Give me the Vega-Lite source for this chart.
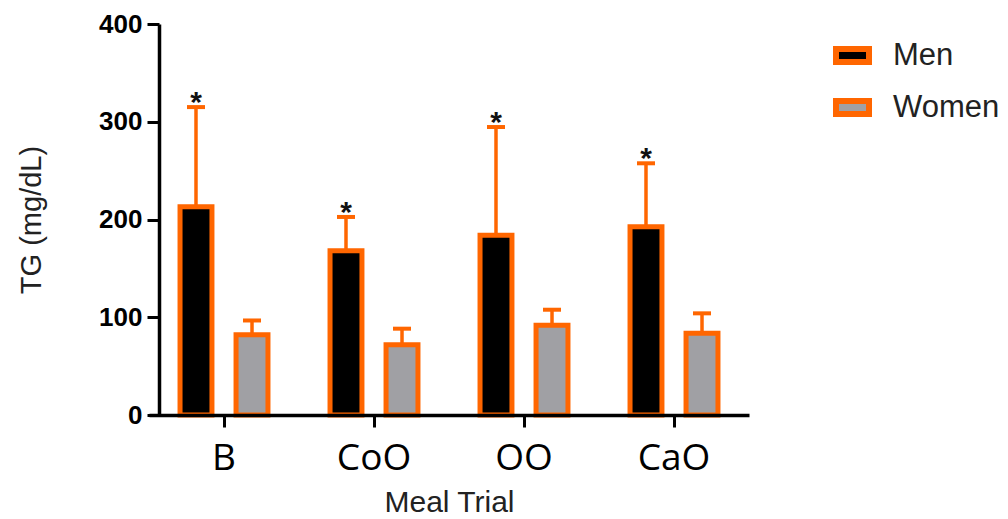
{
  "$schema": "https://vega.github.io/schema/vega-lite/v6.json",
  "width": 583,
  "height": 391,
  "autosize": "none",
  "padding": {"left": 159, "top": 24, "right": 266, "bottom": 104},
  "background": "white",
  "config": {"view": {"stroke": null}, "axis": {"grid": false}},
  "data": {
    "values": [
      {"meal": "B", "sex": "Men", "mean": 213, "upper": 315, "sig": "*"},
      {"meal": "B", "sex": "Women", "mean": 82, "upper": 96.7, "sig": ""},
      {"meal": "CoO", "sex": "Men", "mean": 168, "upper": 202.6, "sig": "*"},
      {"meal": "CoO", "sex": "Women", "mean": 71.8, "upper": 88.3, "sig": ""},
      {"meal": "OO", "sex": "Men", "mean": 184, "upper": 294.6, "sig": "*"},
      {"meal": "OO", "sex": "Women", "mean": 91.9, "upper": 107.7, "sig": ""},
      {"meal": "CaO", "sex": "Men", "mean": 192.5, "upper": 257.5, "sig": "*"},
      {"meal": "CaO", "sex": "Women", "mean": 83.7, "upper": 104, "sig": ""}
    ]
  },
  "encoding": {
    "x": {
      "field": "meal",
      "type": "nominal",
      "sort": ["B", "CoO", "OO", "CaO"],
      "title": "Meal Trial",
      "scale": {"range": [-10, 590], "paddingInner": 0, "paddingOuter": 0},
      "axis": {
        "zindex": 1,
        "labelAngle": 0,
        "domainColor": "#000",
        "domainWidth": 3.5,
        "tickColor": "#000",
        "tickWidth": 3,
        "tickSize": 12,
        "labelFont": "Open Sans",
        "labelFontSize": 37,
        "labelColor": "#000",
        "labelPadding": 13,
        "titleFont": "Liberation Sans",
        "titleFontSize": 30,
        "titleFontWeight": "normal",
        "titleColor": "#222",
        "titleBaseline": "alphabetic",
        "titleY": 96
      }
    },
    "xOffset": {
      "field": "sex",
      "type": "nominal",
      "sort": ["Men", "Women"],
      "scale": {"paddingInner": 0.43, "paddingOuter": 0.554}
    }
  },
  "layer": [
    {
      "mark": {"type": "rule", "color": "#FF6600", "strokeWidth": 3.5},
      "encoding": {
        "y": {"field": "mean", "type": "quantitative", "title": "TG (mg/dL)"},
        "y2": {"field": "upper"}
      }
    },
    {
      "mark": {"type": "tick", "color": "#FF6600", "size": 18, "thickness": 4, "orient": "horizontal", "opacity": 1},
      "encoding": {
        "y": {"field": "upper", "type": "quantitative", "title": "TG (mg/dL)"}
      }
    },
    {
      "mark": {"type": "bar", "stroke": "#FF6600", "strokeWidth": 5},
      "encoding": {
        "y": {
          "field": "mean",
          "type": "quantitative",
          "title": "TG (mg/dL)",
          "scale": {"domain": [0, 400], "nice": false},
          "axis": {
            "values": [0, 100, 200, 300, 400],
            "domainColor": "#000",
            "domainWidth": 3.5,
            "tickColor": "#000",
            "tickWidth": 3,
            "tickSize": 12,
            "labelFont": "Liberation Sans",
            "labelFontWeight": "bold",
            "labelFontSize": 26,
            "labelColor": "#000",
            "labelPadding": 5,
            "titleFont": "Liberation Sans",
            "titleFontSize": 29,
            "titleFontWeight": "normal",
            "titleColor": "#222",
            "titleBaseline": "alphabetic",
            "titleX": -119
          }
        },
        "fill": {
          "field": "sex",
          "type": "nominal",
          "sort": ["Men", "Women"],
          "scale": {"domain": ["Men", "Women"], "range": ["#000000", "#A0A0A4"]},
          "legend": {
            "title": null,
            "orient": "none",
            "legendX": 674,
            "legendY": 12,
            "padding": 0,
            "symbolType": "M-1,-0.4H1V0.4H-1Z",
            "symbolSize": 1089,
            "symbolStrokeColor": "#FF6600",
            "symbolStrokeWidth": 6,
            "symbolOpacity": 1,
            "labelFont": "Liberation Sans",
            "labelFontSize": 31,
            "labelColor": "#222",
            "labelOffset": 21,
            "rowPadding": 13
          }
        }
      }
    },
    {
      "mark": {"type": "text", "font": "Liberation Sans", "fontSize": 30, "fontWeight": "bold", "baseline": "alphabetic", "dy": 5, "color": "#111"},
      "encoding": {
        "y": {"field": "upper", "type": "quantitative", "title": "TG (mg/dL)"},
        "text": {"field": "sig"}
      }
    }
  ]
}
